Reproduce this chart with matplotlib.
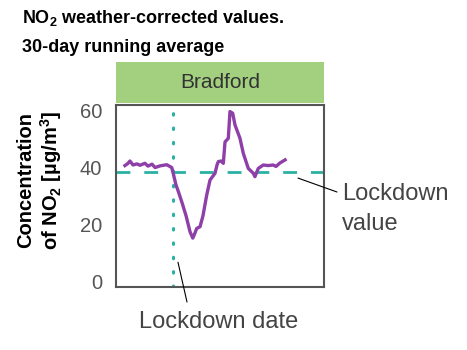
import matplotlib
matplotlib.use("Agg")
import matplotlib.pyplot as plt
from matplotlib.patches import Rectangle

plt.rcParams['font.family'] = ['Liberation Sans', 'DejaVu Sans']
plt.rcParams['mathtext.fontset'] = 'custom'
plt.rcParams['mathtext.rm'] = 'Liberation Sans'
plt.rcParams['mathtext.bf'] = 'Liberation Sans:bold'

# position along the time axis (0-100) and NO2 concentration
days = [4.3, 5.8, 6.7, 8.2, 10.1, 11.5, 13.9, 15.4, 17.3, 18.8, 21.2, 24.4,
        26.8, 27.5, 28.8, 30.0, 31.6, 33.7, 35.6, 36.9, 37.7, 38.8, 40.4,
        41.8, 43.6, 45.2, 47.6, 48.6, 49.2, 50.5, 51.6, 52.4, 54.0, 54.8,
        56.1, 57.2, 59.6, 61.2, 63.6, 66.0, 66.8, 68.4, 70.8, 73.1, 75.6,
        76.9, 78.8, 81.3]
no2 = [40.7, 41.5, 42.3, 40.9, 41.3, 40.8, 41.5, 40.5, 41.2, 40.0, 40.6, 41.0,
       40.0, 38.0, 34.0, 31.5, 28.0, 23.0, 17.4, 15.2, 16.5, 18.6, 19.2,
       23.0, 30.3, 35.6, 38.0, 41.0, 42.1, 42.3, 41.5, 49.0, 50.3, 59.7,
       59.1, 55.0, 50.3, 45.0, 39.7, 38.0, 36.8, 39.7, 40.9, 40.7, 40.9,
       40.4, 41.6, 42.7]
lockdown_day = 27.5
lockdown_value = 38.4
yticks = [0, 20, 40, 60]
city = "Bradford"

grey = '#555555'
teal = '#2bb1a3'
purple = '#8e3fa8'
green = '#a3d07f'

fig = plt.figure(figsize=(4.67, 3.5), dpi=100)
ax = fig.add_axes([116 / 467, 1 - 287 / 350, 208 / 467, 182 / 350])

ax.plot(days, no2, color=purple, linewidth=2.4, zorder=3)
ax.axhline(lockdown_value, color=teal, linewidth=2, dashes=(5, 5), zorder=2)
ax.axvline(lockdown_day, color=teal, linewidth=2.2, linestyle=(0, (0.5, 4.2)),
           dash_capstyle='round', zorder=2)

ax.set_xlim(0, 100)
ax.set_ylim(-2, 62)
ax.set_xticks([])
ax.set_yticks(yticks)
ax.tick_params(axis='y', length=0, pad=10, labelsize=14.5, labelcolor=grey)
for s in ax.spines.values():
    s.set_color(grey)
    s.set_linewidth(1.5)

# header strip with city name
hdr = fig.add_axes([116 / 467, 1 - 103 / 350, 208 / 467, 41 / 350])
hdr.add_patch(Rectangle((0, 0), 1, 1, color=green))
hdr.set_xlim(0, 1)
hdr.set_ylim(0, 1)
hdr.axis('off')
hdr.text(0.5, 0.5, city, ha='center', va='center', fontsize=15, color='#333333')

# titles
fig.text(22 / 467, 1 - 18 / 350, r'NO$_{\mathbf{2}}$ weather-corrected values.',
         fontsize=13, fontweight='bold', va='center', ha='left')
fig.text(22 / 467, 1 - 47 / 350, '30-day running average',
         fontsize=13, fontweight='bold', va='center', ha='left')
fig.text(40 / 467, 1 - 180 / 350,
         'Concentration\n' + r'of NO$_{\mathbf{2}}$ [µg/m$^{\mathbf{3}}$]',
         rotation=90, fontsize=14.5, fontweight='bold', ha='center', va='center',
         linespacing=1.15)

# annotation leader lines
line_style = dict(arrowstyle='-', color='black', lw=0.8, shrinkA=0, shrinkB=0)
ax.annotate('', xy=(87.5, 36.3), xycoords='data',
            xytext=(337 / 467, 1 - 192 / 350), textcoords='figure fraction',
            arrowprops=line_style, annotation_clip=False)
ax.annotate('', xy=(29.8, 6.7), xycoords='data',
            xytext=(187 / 467, 1 - 302 / 350), textcoords='figure fraction',
            arrowprops=line_style, annotation_clip=False)

fig.text(342 / 467, 1 - 209 / 350, 'Lockdown\nvalue', fontsize=17,
         color='#444444', ha='left', va='center', linespacing=1.45)
fig.text(219 / 467, 1 - 322 / 350, 'Lockdown date', fontsize=17,
         color='#444444', ha='center', va='center')

fig.savefig('out.png', dpi=100)
